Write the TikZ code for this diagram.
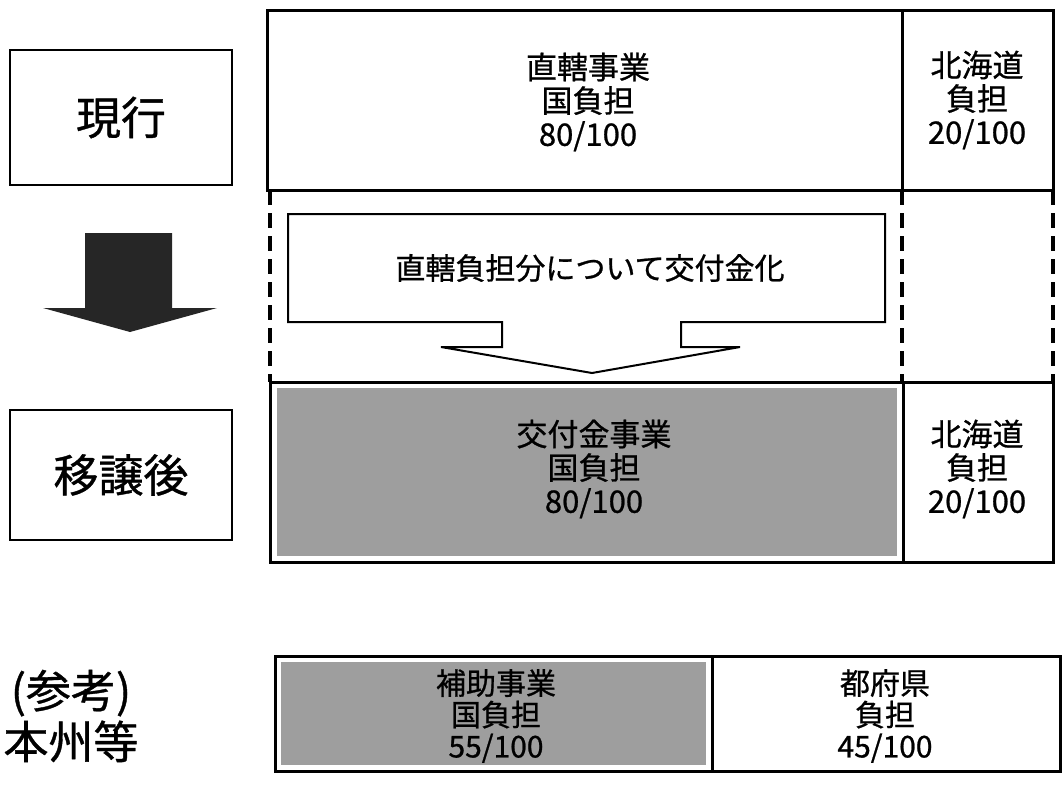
\documentclass[tikz,border=0pt]{standalone}
\usepackage{fontspec}
\setmainfont{Noto Sans CJK JP}[FakeBold=0.8]
\begin{document}
\begin{tikzpicture}[x=1pt,y=-1pt,
  lbox/.style={draw, line width=2.5pt, inner sep=0pt, font=\fontsize{45}{50}\selectfont},
  lbl/.style={align=center, inner sep=0pt, font=\fontsize{45}{51}\selectfont},
  txt/.style={align=center, inner sep=0pt, font=\fontsize{31}{33.5}\selectfont},
  btxt/.style={align=center, inner sep=0pt, font=\fontsize{30}{31.5}\selectfont},
  ctxt/.style={align=center, inner sep=0pt, font=\fontsize{30}{34}\selectfont},
  frame/.style={line width=3pt},
  shade/.style={fill=black!38},
  dsh/.style={line width=3.2pt, dash pattern=on 15pt off 8pt},
  darrow/.style={fill=black!85},
  callout/.style={draw, line width=2pt, fill=white, line join=miter},
]
\useasboundingbox (0,0) rectangle (1064,790);

% left labels
\node[lbox, minimum width=222pt, minimum height=135pt] (genko) at (121,117.5) {現行};
\fill[darrow] (85,233) -- (172,233) -- (172,308) -- (217,308) -- (130,332) -- (43,308) -- (85,308) -- cycle;
\node[lbox, minimum width=222pt, minimum height=130pt] (ijo) at (121,475) {移譲後};
\node[lbl] (sanko) at (71,716) {(参考)\\本州等};

% top (current) box
\draw[frame] (267,10) rectangle (1053,190);
\draw[frame] (902,10) -- (902,190);
\node[txt] (t1) at (588,102) {直轄事業\\国負担\\80/100};
\node[txt] (t2) at (977,100) {北海道\\負担\\20/100};

% dashed sides
\draw[dsh] (270,190) -- (270,382);
\draw[dsh] (902,190) -- (902,382);
\draw[dsh] (1053,190) -- (1053,382);

% callout arrow
\draw[callout] (288,214) -- (885,214) -- (885,322) -- (681,322) -- (681,347) -- (740,347) -- (592,373) -- (441,347) -- (502,347) -- (502,322) -- (288,322) -- cycle;
\node[ctxt] (c1) at (590,268) {直轄負担分について交付金化};

% lower (after transfer) box
\fill[shade] (277,388) rectangle (897,556);
\draw[frame] (270,382) rectangle (1053,562);
\draw[frame] (903,382) -- (903,562);
\node[txt] (t3) at (594,469) {交付金事業\\国負担\\80/100};
\node[txt] (t4) at (977,469) {北海道\\負担\\20/100};

% reference box
\fill[shade] (281,662) rectangle (706,765);
\draw[frame] (275,656) rectangle (1060,771);
\draw[frame] (712,656) -- (712,771);
\node[btxt] (t5) at (496,716) {補助事業\\国負担\\55/100};
\node[btxt] (t6) at (885,716) {都府県\\負担\\45/100};
\end{tikzpicture}
\end{document}
